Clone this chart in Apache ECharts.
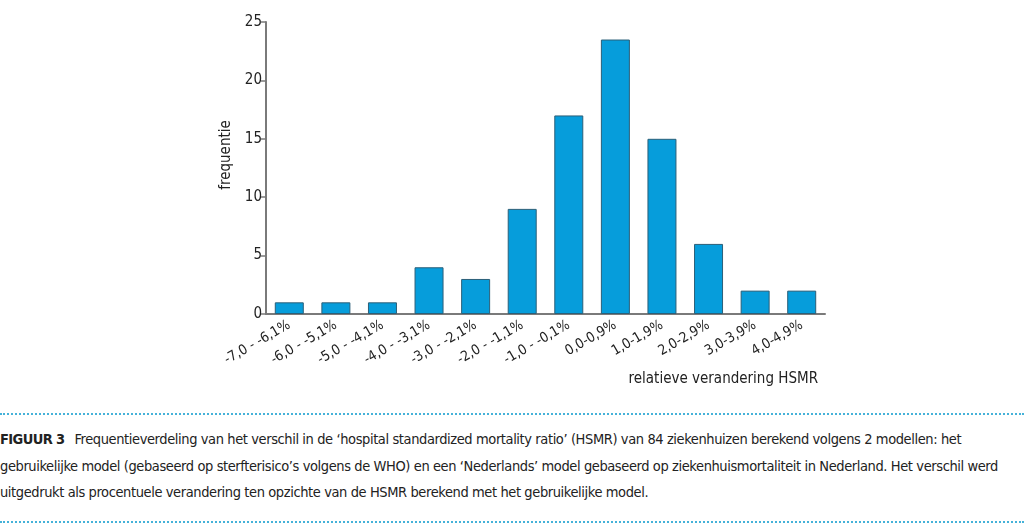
<!DOCTYPE html>
<html>
<head>
<meta charset="utf-8">
<script src="https://cdn.jsdelivr.net/npm/echarts@6/dist/echarts.min.js"></script>
<style>
  html, body { margin: 0; padding: 0; background: #fff; }
  #chart { position: absolute; left: 0; top: 0; width: 1024px; height: 405px; }
  #caption {
    position: absolute; left: 0; top: 413px; width: 1024px; height: 106px;
    border-top: 2px dotted #45b2d9; border-bottom: 2px dotted #45b2d9;
    font-family: "DejaVu Sans Condensed", sans-serif;
    font-size: 14.5px; letter-spacing: -0.4px; color: #222; white-space: nowrap;
  }
  #caption div { position: absolute; left: 0; }
  #caption b { margin-right: 10px; letter-spacing: -0.6px; }
</style>
</head>
<body>
<div id="chart"></div>
<div id="caption">
  <div style="top:16px"><b>FIGUUR 3</b>Frequentieverdeling van het verschil in de ‘hospital standardized mortality ratio’ (HSMR) van 84 ziekenhuizen berekend volgens 2 modellen: het</div>
  <div style="top:43px">gebruikelijke model (gebaseerd op sterfterisico’s volgens de WHO) en een ‘Nederlands’ model gebaseerd op ziekenhuismortaliteit in Nederland. Het verschil werd</div>
  <div style="top:69px">uitgedrukt als procentuele verandering ten opzichte van de HSMR berekend met het gebruikelijke model.</div>
</div>
<script>
// klassen van de relatieve verandering
const categories = ['-7,0 - -6,1%', '-6,0 - -5,1%', '-5,0 - -4,1%', '-4,0 - -3,1%', '-3,0 - -2,1%', '-2,0 - -1,1%',
  '-1,0 - -0,1%', '0,0-0,9%', '1,0-1,9%', '2,0-2,9%', '3,0-3,9%', '4,0-4,9%'];
// aantal ziekenhuizen per klasse
const frequencies = [1, 1, 1, 4, 3, 9, 17, 23.5, 15, 6, 2, 2];
const yTicks = [0, 5, 10, 15, 20, 25];

const font = '"DejaVu Sans Condensed", sans-serif';
const chart = echarts.init(document.getElementById('chart'));

const option = {
  animation: false,
  textStyle: { fontFamily: font },
  grid: { left: 266, top: 22, width: 559, height: 292 },
  xAxis: {
    type: 'category',
    data: categories,
    axisLine: { lineStyle: { color: '#7a7a7a', width: 2 } },
    axisTick: { show: false },
    axisLabel: { rotate: 30, fontSize: 14, color: '#222', margin: 10, interval: 0, fontFamily: font }
  },
  yAxis: {
    type: 'value',
    min: yTicks[0],
    max: yTicks[yTicks.length - 1],
    interval: 5,
    name: 'frequentie',
    nameLocation: 'middle',
    nameGap: 30,
    nameTextStyle: { fontSize: 15, color: '#222', fontFamily: font, padding: [0, 0, 0, 26] },
    splitLine: { show: false },
    axisLine: { show: true, lineStyle: { color: '#7a7a7a', width: 2 } },
    axisTick: { show: true, length: 5, lineStyle: { color: '#7a7a7a', width: 1.5 } },
    axisLabel: { fontSize: 15, color: '#222', margin: 4, fontFamily: font }
  },
  series: [{
    type: 'bar',
    data: frequencies,
    barWidth: 29,
    itemStyle: { color: '#069ddb', borderColor: '#2b5f78', borderWidth: 1 }
  }],
  graphic: [{
    type: 'text',
    right: 1024 - 818,
    top: 372,
    style: { text: 'relatieve verandering HSMR', fontSize: 15, fill: '#222', fontFamily: font }
  }]
};

chart.setOption(option);
</script>
</body>
</html>
